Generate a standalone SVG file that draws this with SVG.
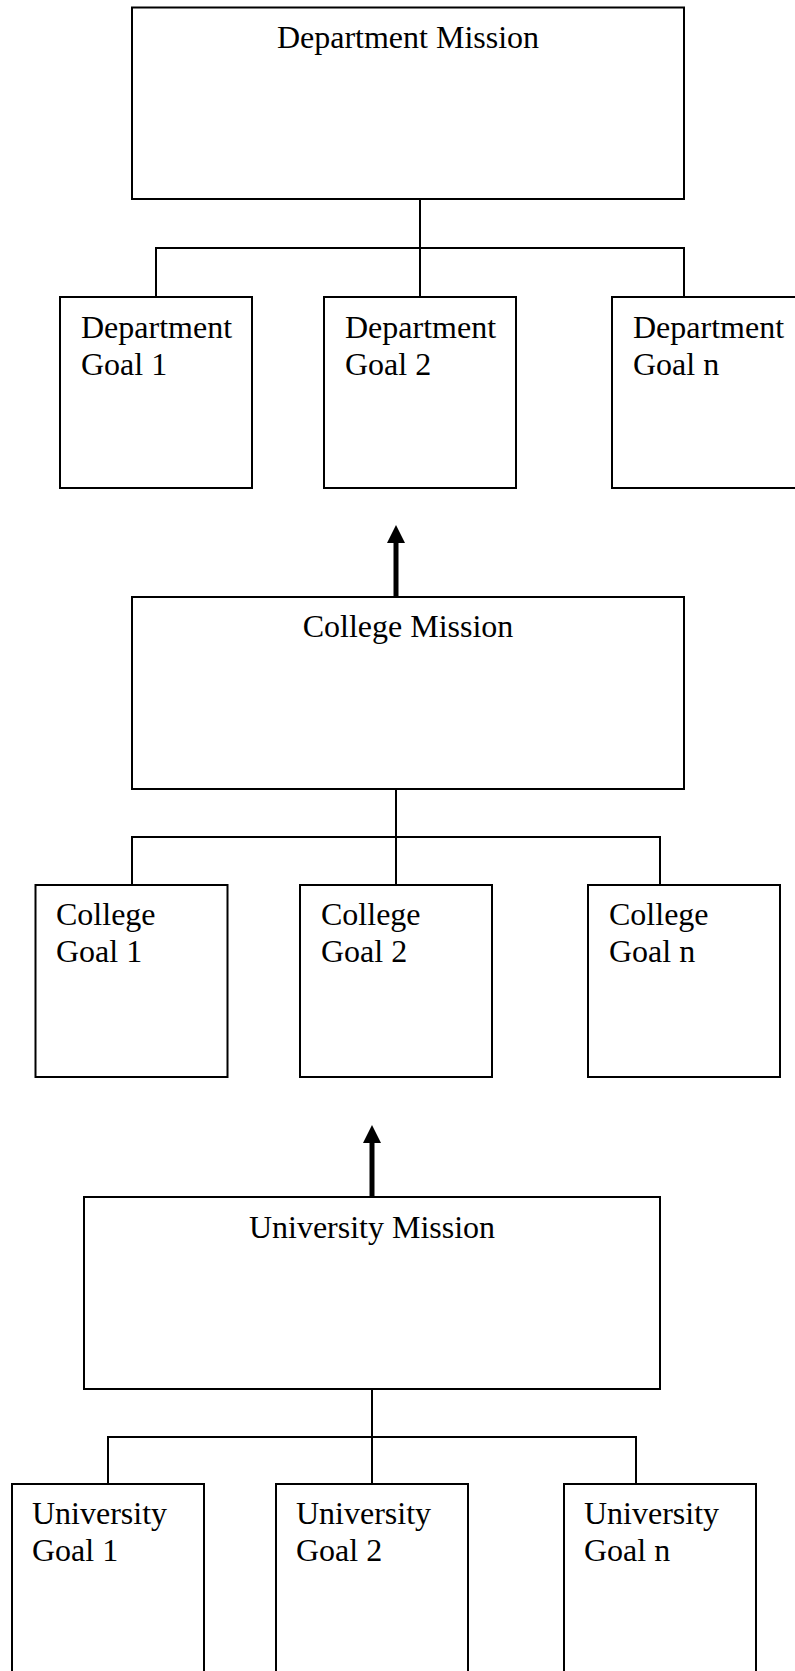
<svg xmlns="http://www.w3.org/2000/svg" width="795" height="1671" viewBox="0 0 795 1671">
<style>
.box{fill:#fff;stroke:#000;stroke-width:2}
.ln{fill:none;stroke:#000;stroke-width:2}
.arr{fill:none;stroke:#000;stroke-width:5;marker-end:url(#ah)}
text{font-family:"Liberation Serif","Times New Roman",serif;font-size:32px;fill:#000}
.c{text-anchor:middle}
</style>
<defs>
<marker id="ah" markerUnits="userSpaceOnUse" markerWidth="18" markerHeight="18" viewBox="0 0 18 18" refX="0" refY="9" orient="auto">
<path d="M0,0 L18,9 L0,18 Z" fill="#000"/>
</marker>
</defs>
<g id="connectors">
<path class="ln" d="M420,199 V296 M156,296 V248 H684 V296"/>
<path class="ln" d="M396,789 V885 M132,885 V837 H660 V885"/>
<path class="ln" d="M372,1389 V1484 M108,1484 V1437 H636 V1484"/>
<path class="arr" d="M396,596 V543"/>
<path class="arr" d="M372,1196 V1143"/>
</g>
<g id="dept-mission"><rect class="box" x="132" y="7.5" width="552" height="191.5"/><text class="c" x="408" y="48">Department Mission</text></g>
<g id="dept-goal-1"><rect class="box" x="60" y="297" width="192" height="191"/><text x="81" y="338">Department</text><text x="81" y="375">Goal 1</text></g>
<g id="dept-goal-2"><rect class="box" x="324" y="297" width="192" height="191"/><text x="345" y="338">Department</text><text x="345" y="375">Goal 2</text></g>
<g id="dept-goal-n"><rect class="box" x="612" y="297" width="192" height="191"/><text x="633" y="338">Department</text><text x="633" y="375">Goal n</text></g>
<g id="college-mission"><rect class="box" x="132" y="597" width="552" height="192"/><text class="c" x="408" y="637">College Mission</text></g>
<g id="college-goal-1"><rect class="box" x="35.5" y="885" width="192" height="192"/><text x="56" y="925">College</text><text x="56" y="962">Goal 1</text></g>
<g id="college-goal-2"><rect class="box" x="300" y="885" width="192" height="192"/><text x="321" y="925">College</text><text x="321" y="962">Goal 2</text></g>
<g id="college-goal-n"><rect class="box" x="588" y="885" width="192" height="192"/><text x="609" y="925">College</text><text x="609" y="962">Goal n</text></g>
<g id="univ-mission"><rect class="box" x="84" y="1197" width="576" height="192"/><text class="c" x="372" y="1238">University Mission</text></g>
<g id="univ-goal-1"><rect class="box" x="12" y="1484" width="192" height="240"/><text x="32" y="1524">University</text><text x="32" y="1561">Goal 1</text></g>
<g id="univ-goal-2"><rect class="box" x="276" y="1484" width="192" height="240"/><text x="296" y="1524">University</text><text x="296" y="1561">Goal 2</text></g>
<g id="univ-goal-n"><rect class="box" x="564" y="1484" width="192" height="240"/><text x="584" y="1524">University</text><text x="584" y="1561">Goal n</text></g>
</svg>
